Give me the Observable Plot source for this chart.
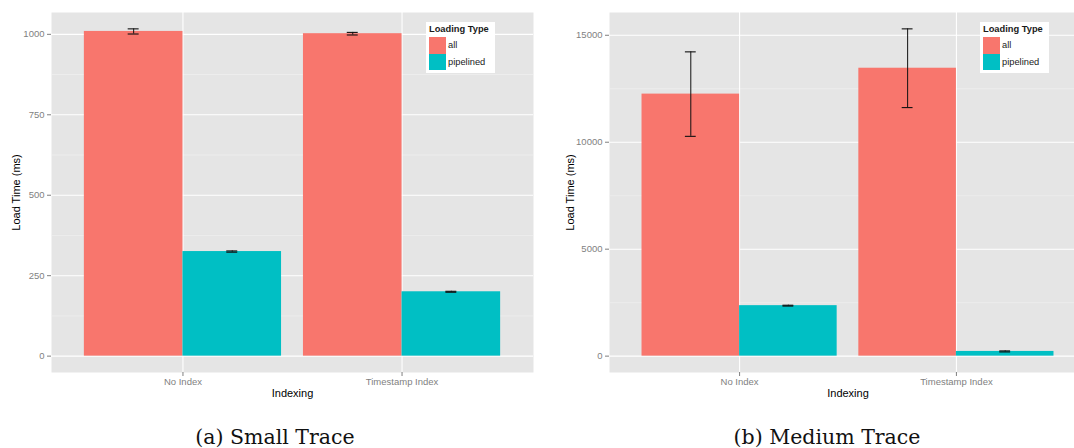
<!DOCTYPE html>
<html>
<head>
<meta charset="utf-8">
<script src="https://cdn.jsdelivr.net/npm/d3@7"></script>
<script src="https://cdn.jsdelivr.net/npm/@observablehq/plot@0.6"></script>
<style>
  html, body { margin: 0; padding: 0; background: #fff; overflow: hidden; }
  #wrap { position: relative; width: 1100px; height: 448px; overflow: hidden; font-family: "Liberation Sans", Arial, sans-serif; }
  .panel { position: absolute; top: 0; }
  .caption { position: absolute; top: 425px; width: 320px; text-align: center; font-family: "DejaVu Serif", serif; font-size: 20.5px; line-height: 24px; color: #111; }
  .legend { position: absolute; top: 22px; width: 69px; height: 51px; background: #fff; font-family: "Liberation Sans", Arial, sans-serif; font-size: 9.3px; color: #1a1a1a; }
  .legend .title { position: absolute; left: 3px; top: 2.4px; line-height: 11px; font-weight: bold; white-space: nowrap; }
  .legend .key { position: absolute; left: 3px; width: 17px; height: 16.5px; }
  .legend .lab { position: absolute; left: 22px; top: 0; line-height: 17px; white-space: nowrap; }
</style>
</head>
<body>
<div id="wrap"></div>
<script>
// ---- data ----
const categories = ["No Index", "Timestamp Index"];
const types = ["all", "pipelined"];
const colors = ["#F8766D", "#00BFC4"];
const legendTitle = "Loading Type";
const xTitle = "Indexing";
const yTitle = "Load Time (ms)";
const captions = ["(a) Small Trace", "(b) Medium Trace"];

const smallAll = [1009, 1002];
const smallAllErr = [8, 4];
const smallPipelined = [325, 200];
const smallPipelinedErr = [2, 1.5];

const mediumAll = [12250, 13460];
const mediumAllErr = [1975, 1840];
const mediumPipelined = [2360, 220];
const mediumPipelinedErr = [20, 25];

const smallTicks = [0, 250, 500, 750, 1000];
const smallMinor = [125, 375, 625, 875];
const mediumTicks = [0, 5000, 10000, 15000];
const mediumMinor = [2500, 7500, 12500];

// ---- helpers ----
const dodge = 0.9, capWidth = 0.05;
function buildRows(allV, allE, pipV, pipE) {
  const out = [];
  categories.forEach((c, i) => {
    [[allV, allE], [pipV, pipE]].forEach(([v, e], t) => {
      const w = dodge / types.length;
      const x1 = i + 1 - dodge / 2 + t * w;
      out.push({cat: c, type: types[t], value: v[i], err: e[i], x1, x2: x1 + w, xc: x1 + w / 2});
    });
  });
  return out;
}

function panel(rows, ticks, minor, opts) {
  const top = d3.max(rows, d => d.value + d.err);
  const pad = 0.05 * top;
  return Plot.plot({
    width: opts.width,
    height: 410,
    marginLeft: opts.marginLeft,
    marginRight: 4,
    marginTop: 12,
    marginBottom: 38,
    style: {fontFamily: "Liberation Sans, Arial, sans-serif", fontSize: "9.5px", background: "transparent", overflow: "visible"},
    x: {domain: [0.4, 2.6]},
    y: {domain: [-pad, top + pad]},
    color: {domain: types, range: colors},
    marks: [
      Plot.frame({fill: "#e5e5e5", stroke: "none"}),
      Plot.gridY(minor, {stroke: "#f2f2f2", strokeOpacity: 1, strokeWidth: 0.6}),
      Plot.gridY(ticks, {stroke: "#ffffff", strokeOpacity: 1, strokeWidth: 1.1}),
      Plot.gridX([1, 2], {stroke: "#ffffff", strokeOpacity: 1, strokeWidth: 1.1}),
      Plot.rect(rows, {x1: "x1", x2: "x2", y1: 0, y2: "value", fill: "type"}),
      Plot.ruleX(rows, {x: "xc", y1: d => d.value - d.err, y2: d => d.value + d.err, stroke: "#111", strokeWidth: 1}),
      Plot.ruleY(rows, {y: d => d.value + d.err, x1: d => d.xc - capWidth / 2, x2: d => d.xc + capWidth / 2, stroke: "#111", strokeWidth: 1.1}),
      Plot.ruleY(rows, {y: d => d.value - d.err, x1: d => d.xc - capWidth / 2, x2: d => d.xc + capWidth / 2, stroke: "#111", strokeWidth: 1.1}),
      Plot.axisY({ticks, tickSize: 4, tickPadding: 3, label: null, stroke: "#7f7f7f", fill: "#7f7f7f", tickFormat: d => String(d)}),
      Plot.axisX({ticks: [1, 2], tickSize: 4, tickPadding: 2, label: null, stroke: "#7f7f7f", fill: "#7f7f7f", tickFormat: d => categories[d - 1]}),
      Plot.text([yTitle], {frameAnchor: "left", dx: -opts.yTitleOffset, rotate: -90, textAnchor: "middle", lineAnchor: "middle", fill: "#000", fontSize: 11}),
      Plot.text([xTitle], {frameAnchor: "bottom", dy: 21, textAnchor: "middle", lineAnchor: "middle", fill: "#000", fontSize: 11})
    ]
  });
}

function legend(left) {
  const el = document.createElement("div");
  el.className = "legend";
  el.style.left = left + "px";
  const t = document.createElement("div");
  t.className = "title";
  t.textContent = legendTitle;
  el.appendChild(t);
  types.forEach((ty, i) => {
    const k = document.createElement("div");
    k.className = "key";
    k.style.top = (15 + i * 16.5) + "px";
    k.style.background = colors[i];
    el.appendChild(k);
    const l = document.createElement("div");
    l.className = "lab";
    l.style.top = (15 + i * 16.5) + "px";
    l.textContent = ty;
    el.appendChild(l);
  });
  return el;
}

const wrap = document.getElementById("wrap");
const panels = [
  {rows: buildRows(smallAll, smallAllErr, smallPipelined, smallPipelinedErr), ticks: smallTicks, minor: smallMinor, left: 0, width: 537, marginLeft: 51, yTitleOffset: 35, legendLeft: 426, captionCenter: 275},
  {rows: buildRows(mediumAll, mediumAllErr, mediumPipelined, mediumPipelinedErr), ticks: mediumTicks, minor: mediumMinor, left: 537, width: 553, marginLeft: 72, yTitleOffset: 39, legendLeft: 980, captionCenter: 827}
];
panels.forEach((p, i) => {
  const div = document.createElement("div");
  div.className = "panel";
  div.style.left = p.left + "px";
  div.appendChild(panel(p.rows, p.ticks, p.minor, p));
  wrap.appendChild(div);
  wrap.appendChild(legend(p.legendLeft));
  const cap = document.createElement("div");
  cap.className = "caption";
  cap.style.left = (p.captionCenter - 160) + "px";
  cap.textContent = captions[i];
  wrap.appendChild(cap);
});
</script>
</body>
</html>
